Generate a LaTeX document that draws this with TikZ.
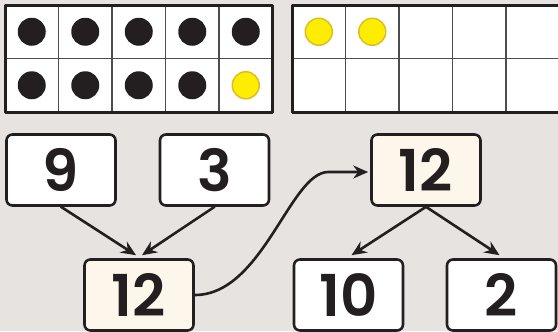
\documentclass[tikz,border=0pt]{standalone}
\usepackage{fontspec}
\setmainfont{Poppins}[BoldFont={Poppins SemiBold}]
\usepackage{tikz}
\usetikzlibrary{arrows.meta, positioning, calc}
\definecolor{fondogris}{HTML}{E7E3E0}
\definecolor{tinta}{HTML}{231F20}
\definecolor{rejilla}{HTML}{4D4D4D}
\definecolor{crema}{HTML}{FDF6EA}
\definecolor{amarillo}{HTML}{FFED00}
\definecolor{amarilloborde}{HTML}{D8BE2A}

\begin{document}
\begin{tikzpicture}[x=1bp, y=-1bp, line cap=round, line join=round,
    caja/.style={draw=tinta, line width=2.6bp, fill=white, rounded corners=6bp,
      minimum width=109bp, minimum height=71bp, inner sep=0pt,
      font=\bfseries\fontsize{58}{58}\selectfont, text=tinta},
    suma/.style={caja, fill=crema},
    flecha/.style={line width=2.6bp, tinta, -{Stealth[length=15bp, width=13bp, inset=5bp]}}]

      % Fondo y recorte
      \fill[fondogris] (0,0) rectangle (558,331);
      \useasboundingbox (0,0) rectangle (558,331);

      % Marco de diez izquierdo (lleno menos uno)
      \fill[white] (5,5) rectangle ++(267.5,107);
      \foreach \i in {1,...,4}
        \draw[rejilla, line width=1.6bp] (5+53.5*\i,5) -- ++(0,107);
      \draw[rejilla, line width=1.6bp] (5,58.5) -- ++(267.5,0);
      \draw[tinta, line width=3bp] (5,5) rectangle ++(267.5,107);
      \foreach \i in {0,...,4}
        \fill[tinta] (31.75+53.5*\i,31.75) circle (14);
      \foreach \i in {0,...,3}
        \fill[tinta] (31.75+53.5*\i,85.25) circle (14);
      \filldraw[fill=amarillo, draw=amarilloborde, line width=1.5bp] (245.75,85.25) circle (13.5);

      % Marco de diez derecho (dos puntos)
      \fill[white] (292,5) rectangle ++(267.5,107);
      \foreach \i in {1,...,4}
        \draw[rejilla, line width=1.6bp] (292+53.5*\i,5) -- ++(0,107);
      \draw[rejilla, line width=1.6bp] (292,58.5) -- ++(267.5,0);
      \draw[tinta, line width=3bp] (292,5) rectangle ++(267.5,107);
      \foreach \i in {0,1}
        \filldraw[fill=amarillo, draw=amarilloborde, line width=1.5bp] (318.75+53.5*\i,31.75) circle (13.5);

      % Cajas de numeros
      \node[caja] (nueve) at (61,170) {9};
      \node[caja] (tres) at (214.5,170) {3};
      \node[suma] (docea) at (139,295) {12};
      \node[suma] (doceb) at (426,170) {12};
      \node[caja] (diez) at (348.5,295) {10};
      \node[caja] (dos) at (501.5,295) {2};

      % Flechas de composicion y descomposicion
      \draw[flecha] (nueve.south) -- ([xshift=-3bp, yshift=3bp]docea.north);
      \draw[flecha] (tres.south) -- ([xshift=3bp, yshift=3bp]docea.north);
      \draw[flecha] (doceb.south) -- ([xshift=3bp, yshift=3bp]diez.north);
      \draw[flecha] (doceb.south) -- ([xshift=-2bp, yshift=3bp]dos.north);

      % Curva que lleva el total
      \draw[flecha] (docea.east) .. controls +(68,0) and ($(doceb.west)+(-80,2)$) .. ($(doceb.west)+(-42,2)$) -- ([xshift=-2bp, yshift=-2bp]doceb.west);
    \end{tikzpicture}
\end{document}
